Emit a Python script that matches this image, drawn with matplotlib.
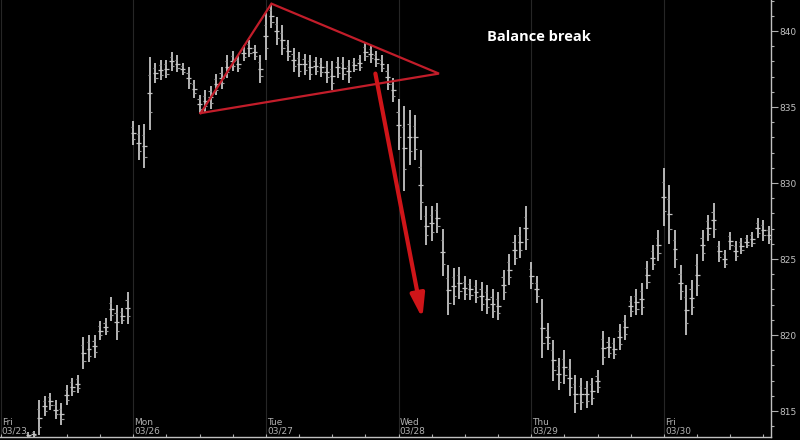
import matplotlib.pyplot as plt
import numpy as np

# hourly bars, first bar at hour 5 of Fri 03/23 (weekend removed)
first_hour = 5
high = [813.6, 813.7, 815.7, 816.0, 816.2, 815.7, 815.5, 816.7, 817.2, 817.4,
        819.9, 820.0, 820.0, 820.9, 821.1, 822.5, 822.0, 821.8, 822.8,
        834.1, 833.8, 833.9, 838.3, 837.9, 838.1, 838.1, 838.6, 838.4, 837.9,
        837.6, 836.8, 835.8, 836.1, 836.4, 837.2, 837.6, 838.4, 838.7, 838.4,
        839.1, 839.4, 839.1, 838.4,
        841.2, 841.8, 840.9, 840.4, 839.4, 838.9, 838.6, 838.5, 838.4, 838.3,
        838.2, 838.0, 838.0, 838.3, 838.3, 838.1, 838.2, 838.4, 839.3, 839.1,
        838.7, 838.4, 837.8, 836.9,
        835.5, 835.1, 834.8, 834.5, 832.2, 828.5, 828.5, 828.7, 827.0, 824.6,
        824.4, 824.5, 823.9, 823.7, 823.6, 823.5, 823.3, 823.0, 822.8, 824.3,
        825.3, 826.6, 827.1, 828.5,
        824.8, 823.9, 822.4, 820.8, 819.7, 818.5, 819.0, 818.4, 817.4, 817.2,
        817.0, 817.2, 817.7, 820.3, 819.9, 819.8, 820.7, 821.3, 822.6, 823.0,
        823.4, 824.9, 825.9, 826.9,
        831.0, 829.9, 826.9, 824.6, 823.3, 823.6, 825.3, 826.9, 827.9, 828.7,
        826.2, 825.6, 826.8, 826.2, 826.4, 826.6, 826.8, 827.7, 827.6, 827.2]
low = [813.3, 813.3, 813.4, 814.7, 815.1, 814.5, 814.1, 815.4, 816.0, 816.2,
       817.8, 818.2, 818.5, 819.7, 820.0, 820.9, 819.7, 820.7, 820.7,
       832.5, 831.5, 831.0, 833.5, 836.6, 836.8, 836.9, 837.4, 837.3, 837.1,
       836.2, 835.6, 834.6, 834.7, 834.9, 835.8, 836.2, 836.9, 837.4, 837.3,
       838.0, 838.3, 838.1, 836.6,
       838.1, 840.2, 839.1, 838.4, 838.0, 837.3, 837.0, 837.1, 836.8, 837.1,
       837.0, 836.6, 836.1, 836.9, 836.8, 836.6, 837.3, 837.4, 838.0, 837.9,
       837.6, 837.3, 836.1, 835.3,
       832.2, 829.5, 831.2, 831.5, 827.6, 825.9, 826.2, 826.7, 823.9, 821.3,
       822.0, 822.4, 822.3, 822.3, 822.1, 821.6, 821.4, 821.1, 821.0, 822.3,
       823.3, 824.6, 825.1, 825.6,
       823.0, 822.1, 818.5, 819.0, 817.0, 816.4, 816.8, 816.0, 814.9, 815.1,
       815.2, 815.4, 816.2, 818.0, 818.5, 818.4, 819.0, 819.7, 821.2, 821.3,
       821.3, 823.0, 824.3, 824.9,
       827.2, 826.0, 824.4, 822.3, 820.0, 821.3, 822.6, 824.9, 826.2, 826.4,
       824.8, 824.4, 825.6, 824.9, 825.3, 825.7, 825.8, 826.4, 826.2, 826.0]

day_names = ['Fri', 'Mon', 'Tue', 'Wed', 'Thu', 'Fri']
day_dates = ['03/23', '03/26', '03/27', '03/28', '03/29', '03/30']
hours_per_day = 24

y_ticks = [815, 820, 825, 830, 835, 840]

# annotation: triangle (hour, price) and breakout arrow
tri_x = [36.2, 49.0, 79.3, 36.2]
tri_y = [834.6, 841.8, 837.2, 834.6]
arrow_start = (67.8, 837.2)
arrow_end = (76.3, 821.1)
note_text = 'Balance break'
note_pos = (88.0, 839.6)

hours = np.arange(len(high)) + first_hour
high = np.array(high)
low = np.array(low)
mid = (high + low) / 2

fig = plt.figure(figsize=(8, 4.4), dpi=100, facecolor='black')
ax = fig.add_axes([0, 0.007, 0.964, 0.993])
ax.set_facecolor('black')

# day separators
for i in range(len(day_names)):
    ax.axvline(i * hours_per_day, color='#262626', lw=0.8, zorder=0)

# bars with small side ticks
bar_col = '#c4c4c4'
ax.vlines(hours, low, high, color=bar_col, lw=1.3, zorder=2)
ax.hlines(mid, hours - 0.45, hours + 0.45, color=bar_col, lw=0.9, zorder=2)
ax.hlines(high - (high - low) * 0.25, hours - 0.4, hours, color='#9a9a9a', lw=0.8, zorder=2)
ax.hlines(low + (high - low) * 0.25, hours, hours + 0.4, color='#9a9a9a', lw=0.8, zorder=2)

ax.plot(tri_x, tri_y, color='#c21d2a', lw=1.6, zorder=3, solid_joinstyle='miter')
ax.annotate('', xy=arrow_end, xytext=arrow_start,
            arrowprops=dict(arrowstyle='-|>,head_length=1.4,head_width=0.42',
                            color='#cf1519', lw=3.0, shrinkA=0, shrinkB=0),
            zorder=4)
ax.text(note_pos[0], note_pos[1], note_text, color='white', fontsize=10.5,
        fontweight='bold', family=['Open Sans', 'DejaVu Sans'], va='center')

# day labels inside the plot, bottom
trans = ax.get_xaxis_transform()
for i, (n, d) in enumerate(zip(day_names, day_dates)):
    ax.text(i * hours_per_day + 0.2, 0.003, n + '\n' + d, transform=trans,
            color='#b0b0b0', fontsize=6.5, va='bottom', ha='left', linespacing=1.0)

ax.set_xlim(-0.1, 139.4)
ax.set_ylim(813.3, 842.04)

ax.yaxis.tick_right()
ax.set_yticks(y_ticks)
ax.set_yticks(np.arange(814, 843, 1), minor=True)
ax.tick_params(axis='y', which='major', direction='out', length=5, width=0.8,
               color='#b0b0b0', labelcolor='#c0c0c0', labelsize=6.5, pad=1)
ax.tick_params(axis='y', which='minor', direction='out', length=2.5, width=0.8,
               color='#b0b0b0')
ax.set_xticks([])
ax.set_xticks(np.arange(0, 140, 6), minor=True)
ax.tick_params(axis='x', which='minor', direction='in', length=2.5, width=0.8,
               color='#b0b0b0')

for s in ['top', 'left']:
    ax.spines[s].set_visible(False)
for s in ['right', 'bottom']:
    ax.spines[s].set_color('#c0c0c0')
    ax.spines[s].set_linewidth(1.0)

fig.savefig('out.png', dpi=100, facecolor='black')
